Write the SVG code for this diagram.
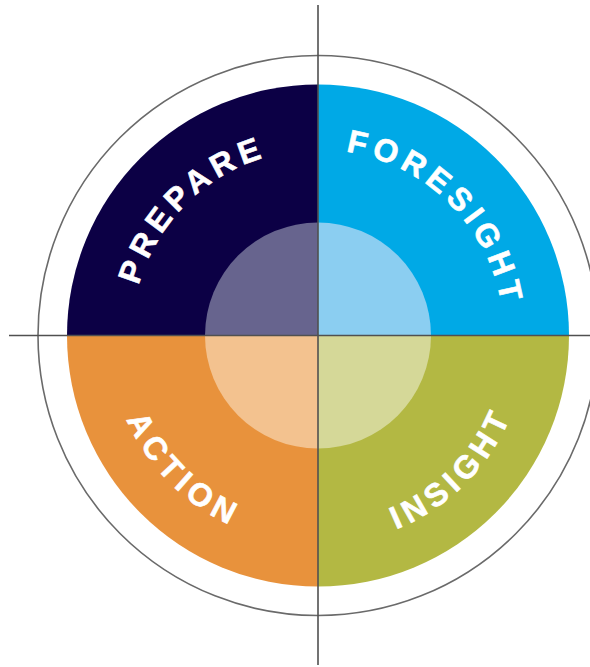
<svg xmlns="http://www.w3.org/2000/svg" width="590" height="667" viewBox="0 0 590 667">
  <style>
    .lbl { font-family: "Liberation Sans", Arial, sans-serif; font-weight: bold; font-size: 32px; fill: #ffffff; stroke: #ffffff; stroke-width: 0.6; letter-spacing: 5.5px; }
    .axis { stroke: #505050; stroke-width: 1.6; fill: none; }
    .ring { stroke: #6a6a6a; stroke-width: 1.6; fill: none; }
  </style>
  <defs>
    <path id="arcTL" d="M132,335.5 A186,186 0 0 1 318,149.5"/>
    <path id="arcTR" d="M318,149.5 A186,186 0 0 1 504,335.5"/>
    <path id="arcBL" d="M109,335.5 A209,209 0 0 0 318,544.5"/>
    <path id="arcBR" d="M318,544.5 A209,209 0 0 0 527,335.5"/>
  </defs>
  <rect width="590" height="667" fill="#ffffff"/>
  <circle class="ring" cx="318" cy="335.5" r="280"/>

  <g id="prepare">
    <path d="M318,335.5 L67,335.5 A251,251 0 0 1 318,84.5 Z" fill="#0c0045"/>
    <path d="M318,335.5 L205,335.5 A113,113 0 0 1 318,222.5 Z" fill="#67648e"/>
    <text class="lbl"><textPath href="#arcTL" startOffset="50%" text-anchor="middle">PREPARE</textPath></text>
  </g>
  <g id="foresight">
    <path d="M318,335.5 L318,84.5 A251,251 0 0 1 569,335.5 Z" fill="#00a9e6"/>
    <path d="M318,335.5 L318,222.5 A113,113 0 0 1 431,335.5 Z" fill="#8bcef1"/>
    <text class="lbl"><textPath href="#arcTR" startOffset="50%" text-anchor="middle">FORESIGHT</textPath></text>
  </g>
  <g id="action">
    <path d="M318,335.5 L67,335.5 A251,251 0 0 0 318,586.5 Z" fill="#e8923c"/>
    <path d="M318,335.5 L205,335.5 A113,113 0 0 0 318,448.5 Z" fill="#f3c28f"/>
    <text class="lbl"><textPath href="#arcBL" startOffset="50%" text-anchor="middle">ACTION</textPath></text>
  </g>
  <g id="insight">
    <path d="M318,335.5 L318,586.5 A251,251 0 0 0 569,335.5 Z" fill="#b3b843"/>
    <path d="M318,335.5 L318,448.5 A113,113 0 0 0 431,335.5 Z" fill="#d5d898"/>
    <text class="lbl"><textPath href="#arcBR" startOffset="50%" text-anchor="middle">INSIGHT</textPath></text>
  </g>

  <g id="connectors">
    <line class="axis" x1="318" y1="5" x2="318" y2="665"/>
    <line class="axis" x1="9" y1="335.5" x2="590" y2="335.5"/>
  </g>
</svg>
